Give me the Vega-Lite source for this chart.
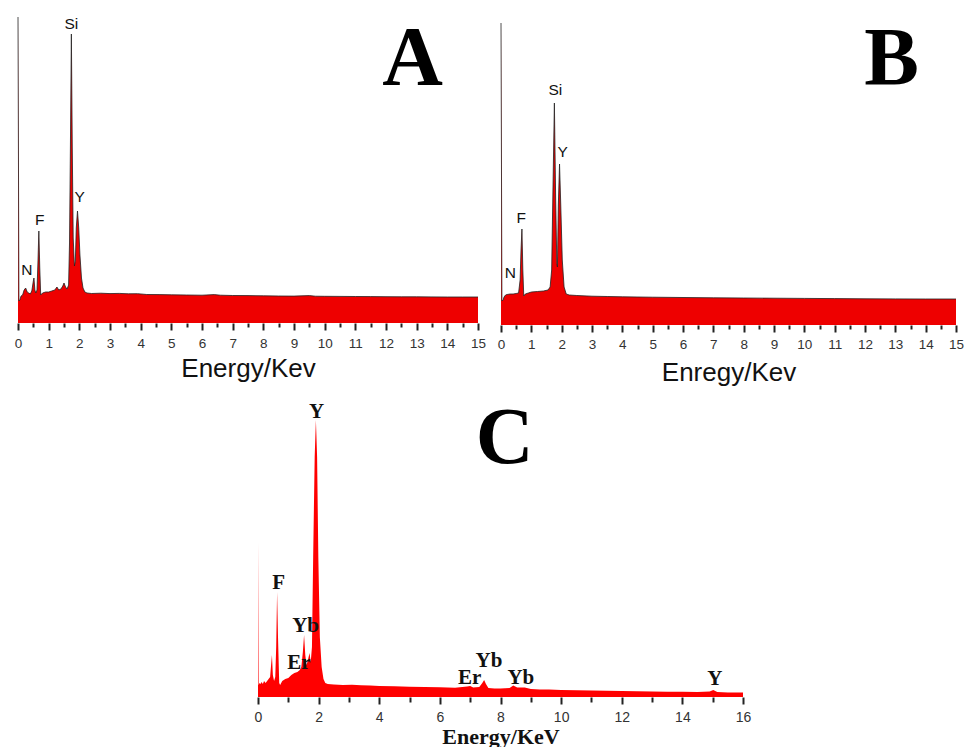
{
  "$schema": "https://vega.github.io/schema/vega-lite/v6.json",
  "background": "white",
  "padding": {"left": 14, "top": 15, "right": 0, "bottom": 0},
  "config": {"view": {"stroke": null}, "font": "Liberation Sans"},
  "datasets": {
    "A": [
      {"energy": 0, "counts": 306}, {"energy": 0.03, "counts": 22}, {"energy": 0.06, "counts": 23}, {"energy": 0.1, "counts": 27},
      {"energy": 0.15, "counts": 28}, {"energy": 0.2, "counts": 33}, {"energy": 0.25, "counts": 35}, {"energy": 0.3, "counts": 31},
      {"energy": 0.35, "counts": 30}, {"energy": 0.4, "counts": 29}, {"energy": 0.45, "counts": 32}, {"energy": 0.5, "counts": 42},
      {"energy": 0.52, "counts": 45}, {"energy": 0.55, "counts": 33}, {"energy": 0.58, "counts": 30}, {"energy": 0.62, "counts": 33},
      {"energy": 0.65, "counts": 60}, {"energy": 0.68, "counts": 92}, {"energy": 0.71, "counts": 55}, {"energy": 0.74, "counts": 28},
      {"energy": 0.8, "counts": 30}, {"energy": 0.9, "counts": 31}, {"energy": 1.0, "counts": 31}, {"energy": 1.1, "counts": 32},
      {"energy": 1.2, "counts": 33}, {"energy": 1.27, "counts": 36}, {"energy": 1.33, "counts": 33}, {"energy": 1.4, "counts": 34},
      {"energy": 1.46, "counts": 37}, {"energy": 1.5, "counts": 40}, {"energy": 1.55, "counts": 36}, {"energy": 1.6, "counts": 34},
      {"energy": 1.65, "counts": 38}, {"energy": 1.68, "counts": 80}, {"energy": 1.71, "counts": 180}, {"energy": 1.74, "counts": 289},
      {"energy": 1.77, "counts": 175}, {"energy": 1.8, "counts": 85}, {"energy": 1.84, "counts": 57}, {"energy": 1.87, "counts": 62},
      {"energy": 1.9, "counts": 95}, {"energy": 1.94, "counts": 112}, {"energy": 1.98, "counts": 95}, {"energy": 2.02, "counts": 68},
      {"energy": 2.07, "counts": 45}, {"energy": 2.12, "counts": 35}, {"energy": 2.18, "counts": 31}, {"energy": 2.25, "counts": 30},
      {"energy": 2.4, "counts": 29.5}, {"energy": 2.7, "counts": 29.8}, {"energy": 3.0, "counts": 29.4}, {"energy": 3.3, "counts": 29.6},
      {"energy": 3.6, "counts": 29.2}, {"energy": 3.9, "counts": 29.3}, {"energy": 4.2, "counts": 28.5}, {"energy": 4.6, "counts": 28.4},
      {"energy": 5.0, "counts": 28.2}, {"energy": 5.5, "counts": 28}, {"energy": 6.0, "counts": 27.8}, {"energy": 6.4, "counts": 28.4},
      {"energy": 6.6, "counts": 27.8}, {"energy": 7.0, "counts": 27.5}, {"energy": 7.5, "counts": 27.4}, {"energy": 8.0, "counts": 27.2},
      {"energy": 8.5, "counts": 27}, {"energy": 9.0, "counts": 26.9}, {"energy": 9.5, "counts": 27.4}, {"energy": 9.7, "counts": 26.8},
      {"energy": 10.0, "counts": 26.7}, {"energy": 10.5, "counts": 26.6}, {"energy": 11, "counts": 26.5}, {"energy": 11.5, "counts": 26.4},
      {"energy": 12, "counts": 26.3}, {"energy": 12.5, "counts": 26.2}, {"energy": 13, "counts": 26.2}, {"energy": 13.5, "counts": 26.1},
      {"energy": 14, "counts": 26}, {"energy": 14.5, "counts": 26}, {"energy": 15, "counts": 26}
    ],
    "B": [
      {"energy": 0, "counts": 302}, {"energy": 0.03, "counts": 24}, {"energy": 0.07, "counts": 25}, {"energy": 0.1, "counts": 28},
      {"energy": 0.15, "counts": 30}, {"energy": 0.2, "counts": 30.5}, {"energy": 0.3, "counts": 31}, {"energy": 0.4, "counts": 31},
      {"energy": 0.5, "counts": 31.5}, {"energy": 0.58, "counts": 32}, {"energy": 0.63, "counts": 45}, {"energy": 0.66, "counts": 75},
      {"energy": 0.69, "counts": 96}, {"energy": 0.72, "counts": 55}, {"energy": 0.75, "counts": 29}, {"energy": 0.8, "counts": 31},
      {"energy": 0.9, "counts": 32}, {"energy": 1.0, "counts": 33}, {"energy": 1.2, "counts": 33.5}, {"energy": 1.4, "counts": 34},
      {"energy": 1.55, "counts": 35}, {"energy": 1.62, "counts": 38}, {"energy": 1.67, "counts": 55}, {"energy": 1.71, "counts": 130},
      {"energy": 1.76, "counts": 222}, {"energy": 1.8, "counts": 130}, {"energy": 1.84, "counts": 62}, {"energy": 1.86, "counts": 58},
      {"energy": 1.89, "counts": 120}, {"energy": 1.93, "counts": 161}, {"energy": 1.97, "counts": 120}, {"energy": 2.02, "counts": 65},
      {"energy": 2.08, "counts": 38}, {"energy": 2.15, "counts": 31}, {"energy": 2.25, "counts": 30}, {"energy": 2.5, "counts": 29.5},
      {"energy": 3, "counts": 28.8}, {"energy": 3.5, "counts": 28.5}, {"energy": 4, "counts": 28.2}, {"energy": 5, "counts": 27.8},
      {"energy": 6, "counts": 27.5}, {"energy": 7, "counts": 27.2}, {"energy": 8, "counts": 27}, {"energy": 9, "counts": 26.8},
      {"energy": 10, "counts": 26.6}, {"energy": 11, "counts": 26.4}, {"energy": 12, "counts": 26.2}, {"energy": 13, "counts": 26.1},
      {"energy": 14, "counts": 26}, {"energy": 15, "counts": 26}
    ],
    "C": [
      {"energy": 0, "counts": 155}, {"energy": 0.02, "counts": 12}, {"energy": 0.05, "counts": 14}, {"energy": 0.08, "counts": 13},
      {"energy": 0.12, "counts": 15}, {"energy": 0.16, "counts": 13}, {"energy": 0.2, "counts": 16}, {"energy": 0.25, "counts": 14},
      {"energy": 0.3, "counts": 16}, {"energy": 0.35, "counts": 18}, {"energy": 0.4, "counts": 20}, {"energy": 0.44, "counts": 35},
      {"energy": 0.46, "counts": 42}, {"energy": 0.49, "counts": 22}, {"energy": 0.53, "counts": 16}, {"energy": 0.57, "counts": 20},
      {"energy": 0.6, "counts": 50}, {"energy": 0.63, "counts": 105}, {"energy": 0.66, "counts": 60}, {"energy": 0.7, "counts": 14},
      {"energy": 0.73, "counts": 12}, {"energy": 0.8, "counts": 16}, {"energy": 0.9, "counts": 18}, {"energy": 1.0, "counts": 19},
      {"energy": 1.1, "counts": 22}, {"energy": 1.2, "counts": 24}, {"energy": 1.3, "counts": 25}, {"energy": 1.38, "counts": 27},
      {"energy": 1.43, "counts": 30}, {"energy": 1.48, "counts": 45}, {"energy": 1.52, "counts": 62}, {"energy": 1.56, "counts": 42},
      {"energy": 1.6, "counts": 32}, {"energy": 1.64, "counts": 36}, {"energy": 1.7, "counts": 44}, {"energy": 1.74, "counts": 35},
      {"energy": 1.78, "counts": 50}, {"energy": 1.82, "counts": 140}, {"energy": 1.87, "counts": 240}, {"energy": 1.91, "counts": 277},
      {"energy": 1.95, "counts": 240}, {"energy": 1.99, "counts": 140}, {"energy": 2.04, "counts": 60}, {"energy": 2.1, "counts": 30},
      {"energy": 2.16, "counts": 18}, {"energy": 2.22, "counts": 14}, {"energy": 2.3, "counts": 13}, {"energy": 2.5, "counts": 12.5},
      {"energy": 2.8, "counts": 12}, {"energy": 3.1, "counts": 12.2}, {"energy": 3.4, "counts": 11.8}, {"energy": 3.7, "counts": 11.5},
      {"energy": 4.0, "counts": 11}, {"energy": 4.5, "counts": 10.8}, {"energy": 5, "counts": 10.3}, {"energy": 5.5, "counts": 10},
      {"energy": 6, "counts": 9.8}, {"energy": 6.5, "counts": 9.3}, {"energy": 6.9, "counts": 10.5}, {"energy": 7.0, "counts": 11},
      {"energy": 7.1, "counts": 9.5}, {"energy": 7.3, "counts": 10}, {"energy": 7.4, "counts": 14}, {"energy": 7.46, "counts": 17},
      {"energy": 7.52, "counts": 13}, {"energy": 7.6, "counts": 9}, {"energy": 7.8, "counts": 8.5}, {"energy": 8.0, "counts": 8.5},
      {"energy": 8.3, "counts": 9}, {"energy": 8.42, "counts": 11.5}, {"energy": 8.55, "counts": 9.5}, {"energy": 8.8, "counts": 9.5},
      {"energy": 9.0, "counts": 8}, {"energy": 9.3, "counts": 7.5}, {"energy": 9.6, "counts": 7.5}, {"energy": 10, "counts": 7},
      {"energy": 10.5, "counts": 6.8}, {"energy": 11, "counts": 6.5}, {"energy": 11.5, "counts": 6.2}, {"energy": 12, "counts": 6},
      {"energy": 12.5, "counts": 5.8}, {"energy": 13, "counts": 5.5}, {"energy": 13.5, "counts": 5.3}, {"energy": 14, "counts": 5.2},
      {"energy": 14.5, "counts": 5}, {"energy": 14.9, "counts": 5.5}, {"energy": 15.02, "counts": 7}, {"energy": 15.15, "counts": 5},
      {"energy": 15.5, "counts": 4.6}, {"energy": 16, "counts": 4.5}
    ],
    "labels": [
      {"panel": "A", "kind": "peak", "label": "Si", "energy": 1.74, "counts": 294},
      {"panel": "A", "kind": "peak", "label": "Y", "energy": 2.01, "counts": 121},
      {"panel": "A", "kind": "peak", "label": "F", "energy": 0.71, "counts": 98},
      {"panel": "A", "kind": "peak", "label": "N", "energy": 0.29, "counts": 48},
      {"panel": "A", "kind": "letter", "label": "A", "energy": 12.87, "counts": 238},
      {"panel": "B", "kind": "peak", "label": "Si", "energy": 1.79, "counts": 230},
      {"panel": "B", "kind": "peak", "label": "Y", "energy": 2.03, "counts": 168},
      {"panel": "B", "kind": "peak", "label": "F", "energy": 0.67, "counts": 102},
      {"panel": "B", "kind": "peak", "label": "N", "energy": 0.31, "counts": 47},
      {"panel": "B", "kind": "letter", "label": "B", "energy": 12.88, "counts": 241},
      {"panel": "C", "kind": "peak", "label": "Y", "energy": 1.93, "counts": 279},
      {"panel": "C", "kind": "peak", "label": "F", "energy": 0.68, "counts": 108},
      {"panel": "C", "kind": "peak", "label": "Yb", "energy": 1.57, "counts": 65},
      {"panel": "C", "kind": "peak", "label": "Er", "energy": 1.35, "counts": 28},
      {"panel": "C", "kind": "peak", "label": "Er", "energy": 6.98, "counts": 13},
      {"panel": "C", "kind": "peak", "label": "Yb", "energy": 7.62, "counts": 30},
      {"panel": "C", "kind": "peak", "label": "Yb", "energy": 8.67, "counts": 13},
      {"panel": "C", "kind": "peak", "label": "Y", "energy": 15.07, "counts": 12},
      {"panel": "C", "kind": "letter", "label": "C", "energy": 8.14, "counts": 234}
    ]
  },
  "spacing": 13,
  "vconcat": [
    {
      "hconcat": [
        {
          "width": 460, "height": 308,
          "resolve": {"axis": {"x": "independent"}},
          "encoding": {
            "y": {"field": "counts", "type": "quantitative", "scale": {"domain": [0, 308], "nice": false}, "axis": null}
          },
          "layer": [
            {
              "data": {"name": "A"},
              "mark": {"type": "area", "color": "#ee0000", "opacity": 1},
              "encoding": {
                "x": {"field": "energy", "type": "quantitative", "scale": {"domain": [0, 15], "nice": false},
                  "axis": {"values": [0,1,2,3,4,5,6,7,8,9,10,11,12,13,14,15], "format": "d", "orient": "bottom",
                    "ticks": true, "tickSize": 7, "tickColor": "#222", "tickWidth": 2, "labelPadding": 6, "labelFontSize": 13.5, "labelFont": "Liberation Sans", "labelColor": "#333",
                    "domain": false, "grid": false, "labelFlush": false, "labelOverlap": false,
                    "title": "Energy/Kev", "titleFont": "Liberation Sans", "titleFontSize": 26, "titleFontWeight": "normal",
                    "titleColor": "#111", "titlePadding": 6}}
              }
            },
            {
              "data": {"name": "A"},
              "mark": {"type": "line", "color": "#222", "strokeWidth": 0.8},
              "encoding": {
                "x": {"field": "energy", "type": "quantitative",
                  "axis": {"values": [0.5,1.5,2.5,3.5,4.5,5.5,6.5,7.5,8.5,9.5,10.5,11.5,12.5,13.5,14.5], "orient": "bottom",
                    "ticks": true, "tickSize": 4, "tickColor": "#222", "tickWidth": 2, "labels": false, "domain": false, "grid": false, "title": null}}
              }
            },
            {
              "data": {"name": "labels"},
              "transform": [{"filter": "datum.panel === 'A' && datum.kind === 'peak'"}],
              "mark": {"type": "text", "font": "Liberation Sans", "fontSize": 15.5, "baseline": "alphabetic", "color": "#111"},
              "encoding": {"x": {"field": "energy", "type": "quantitative", "axis": null}, "text": {"field": "label"}}
            },
            {
              "data": {"name": "labels"},
              "transform": [{"filter": "datum.panel === 'A' && datum.kind === 'letter'"}],
              "mark": {"type": "text", "font": "Liberation Serif", "fontWeight": "bold", "fontSize": 84, "baseline": "alphabetic", "color": "#000"},
              "encoding": {"x": {"field": "energy", "type": "quantitative", "axis": null}, "text": {"field": "label"}}
            }
          ]
        },
        {
          "width": 455, "height": 310,
          "resolve": {"axis": {"x": "independent"}},
          "encoding": {
            "y": {"field": "counts", "type": "quantitative", "scale": {"domain": [0, 310], "nice": false}, "axis": null}
          },
          "layer": [
            {
              "data": {"name": "B"},
              "mark": {"type": "area", "color": "#ee0000", "opacity": 1},
              "encoding": {
                "x": {"field": "energy", "type": "quantitative", "scale": {"domain": [0, 15], "nice": false},
                  "axis": {"values": [0,1,2,3,4,5,6,7,8,9,10,11,12,13,14,15], "format": "d", "orient": "bottom",
                    "ticks": true, "tickSize": 7, "tickColor": "#222", "tickWidth": 2, "labelPadding": 5, "labelFontSize": 13.5, "labelFont": "Liberation Sans", "labelColor": "#333",
                    "domain": false, "grid": false, "labelFlush": false, "labelOverlap": false,
                    "title": "Enregy/Kev", "titleFont": "Liberation Sans", "titleFontSize": 26, "titleFontWeight": "normal",
                    "titleColor": "#111", "titlePadding": 9}}
              }
            },
            {
              "data": {"name": "B"},
              "mark": {"type": "line", "color": "#222", "strokeWidth": 0.8},
              "encoding": {
                "x": {"field": "energy", "type": "quantitative",
                  "axis": {"values": [0.5,1.5,2.5,3.5,4.5,5.5,6.5,7.5,8.5,9.5,10.5,11.5,12.5,13.5,14.5], "orient": "bottom",
                    "ticks": true, "tickSize": 4, "tickColor": "#222", "tickWidth": 2, "labels": false, "domain": false, "grid": false, "title": null}}
              }
            },
            {
              "data": {"name": "labels"},
              "transform": [{"filter": "datum.panel === 'B' && datum.kind === 'peak'"}],
              "mark": {"type": "text", "font": "Liberation Sans", "fontSize": 15.5, "baseline": "alphabetic", "color": "#111"},
              "encoding": {"x": {"field": "energy", "type": "quantitative", "axis": null}, "text": {"field": "label"}}
            },
            {
              "data": {"name": "labels"},
              "transform": [{"filter": "datum.panel === 'B' && datum.kind === 'letter'"}],
              "mark": {"type": "text", "font": "Liberation Serif", "fontWeight": "bold", "fontSize": 82, "baseline": "alphabetic", "color": "#000"},
              "encoding": {"x": {"field": "energy", "type": "quantitative", "axis": null}, "text": {"field": "label"}}
            }
          ]
        }
      ],
      "spacing": 23,
      "bounds": "flush"
    },
    {
      "hconcat": [
        {
          "width": 240, "height": 297,
          "data": {"values": []},
          "mark": {"type": "text"},
          "encoding": {}
        },
        {
          "width": 485, "height": 297,
          "resolve": {"axis": {"x": "independent"}},
          "encoding": {
            "y": {"field": "counts", "type": "quantitative", "scale": {"domain": [0, 297], "nice": false}, "axis": null}
          },
          "layer": [
            {
              "data": {"name": "C"},
              "mark": {"type": "area", "color": "#ff0000", "opacity": 1},
              "encoding": {
                "x": {"field": "energy", "type": "quantitative", "scale": {"domain": [0, 16], "nice": false},
                  "axis": {"values": [0,2,4,6,8,10,12,14,16], "format": "d", "orient": "bottom",
                    "ticks": true, "tickSize": 7, "tickColor": "#222", "tickWidth": 2, "labelPadding": 6, "labelFontSize": 14, "labelFont": "Liberation Sans", "labelColor": "#333",
                    "domain": false, "grid": false, "labelFlush": false, "labelOverlap": false,
                    "title": "Energy/KeV", "titleFont": "Liberation Serif", "titleFontSize": 22, "titleFontWeight": "bold",
                    "titleColor": "#111", "titlePadding": 2}}
              }
            },
            {
              "data": {"name": "labels"},
              "transform": [{"filter": "datum.panel === 'C' && datum.kind === 'peak'"}],
              "mark": {"type": "text", "font": "Liberation Serif", "fontWeight": "bold", "fontSize": 21, "baseline": "alphabetic", "color": "#111"},
              "encoding": {"x": {"field": "energy", "type": "quantitative",
                  "axis": {"values": [1,3,5,7,9,11,13,15], "orient": "bottom",
                    "ticks": true, "tickSize": 5, "tickColor": "#222", "tickWidth": 2, "labels": false, "domain": false, "grid": false, "title": null}},
                "text": {"field": "label"}}
            },
            {
              "data": {"name": "labels"},
              "transform": [{"filter": "datum.panel === 'C' && datum.kind === 'letter'"}],
              "mark": {"type": "text", "font": "Liberation Serif", "fontWeight": "bold", "fontSize": 80, "baseline": "alphabetic", "color": "#000"},
              "encoding": {"x": {"field": "energy", "type": "quantitative", "axis": null}, "text": {"field": "label"}}
            }
          ]
        }
      ],
      "spacing": 0,
      "bounds": "flush"
    }
  ]
}
